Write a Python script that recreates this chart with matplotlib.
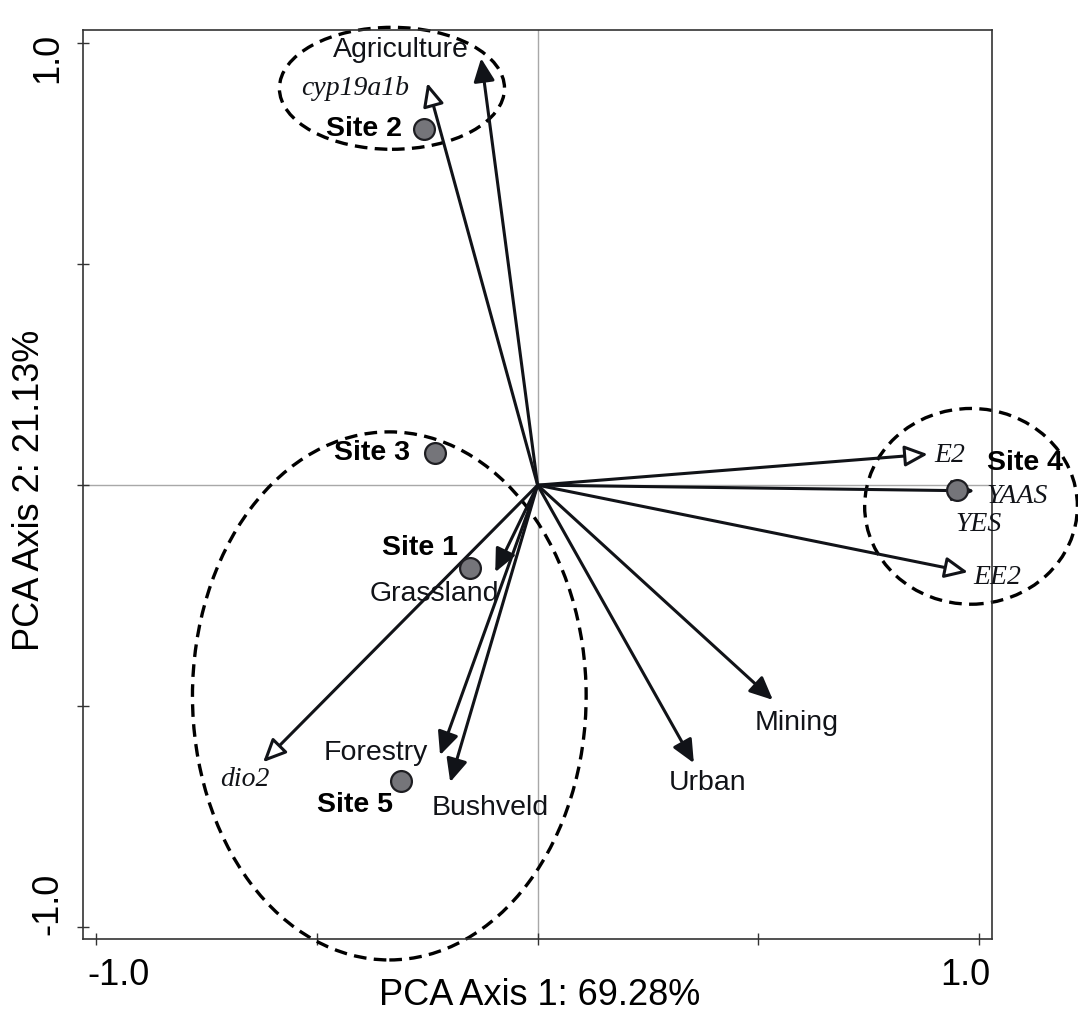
import matplotlib
matplotlib.use("Agg")
import matplotlib.pyplot as plt
from matplotlib.patches import Ellipse
from matplotlib.transforms import ScaledTranslation

# ---------------- data ----------------
env_names = ["Agriculture", "Grassland", "Forestry", "Bushveld", "Urban", "Mining"]
env_x = [-0.128, -0.096, -0.221, -0.198, 0.354, 0.533]
env_y = [0.966, -0.197, -0.611, -0.672, -0.629, -0.486]
env_lx = [-0.309, -0.234, -0.366, -0.108, 0.384, 0.588]
env_ly = [0.984, -0.247, -0.606, -0.731, -0.674, -0.538]

bio_names = ["cyp19a1b", "dio2", "E2", "YAAS", "EE2"]
bio_x = [-0.250, -0.622, 0.884, 0.990, 0.975]
bio_y = [0.910, -0.627, 0.070, -0.013, -0.197]
bio_lx = [-0.413, -0.663, 0.934, 1.086, 1.041]
bio_ly = [0.898, -0.667, 0.066, -0.025, -0.208]
extra_bio_label = "YES"
extra_bio_pos = [0.998, -0.088]

site_names = ["Site 1", "Site 2", "Site 3", "Site 4", "Site 5"]
site_x = [-0.153, -0.257, -0.232, 0.950, -0.309]
site_y = [-0.188, 0.805, 0.072, -0.012, -0.670]
site_lx = [-0.180, -0.307, -0.289, 1.104, -0.413]
site_ly = [-0.143, 0.805, 0.072, 0.050, -0.724]
site_ha = ["right", "right", "right", "center", "center"]

ell_cx = [-0.330, -0.336, 0.982]
ell_cy = [0.898, -0.477, -0.048]
ell_w = [0.510, 0.892, 0.482]
ell_h = [0.276, 1.195, 0.443]

xticks = [-1.0, -0.5, 0.0, 0.5, 1.0]
xticklabels = ["-1.0", "", "", "", "1.0"]
yticks = [-1.0, -0.5, 0.0, 0.5, 1.0]
yticklabels = ["-1.0", "", "", "", "1.0"]
xlabel = "PCA Axis 1: 69.28%"
ylabel = "PCA Axis 2: 21.13%"

# ---------------- plot ----------------
SANS = ["Liberation Sans", "DejaVu Sans"]
SERIF = ["Liberation Serif", "DejaVu Serif"]
plt.rcParams["font.family"] = SANS
ink = "#111318"

fig = plt.figure(figsize=(10.78, 10.14), dpi=100)
ax = fig.add_axes([0.077, 0.074, 0.843, 0.896])
ax.set_xlim(-1.03, 1.029)
ax.set_ylim(-1.027, 1.029)

ax.axhline(0, color="#a8a8a8", lw=1.0, zorder=1)
ax.axvline(0, color="#a8a8a8", lw=1.0, zorder=1)

for cx, cy, w, h in zip(ell_cx, ell_cy, ell_w, ell_h):
    e = Ellipse((cx, cy), w, h, fill=False, ec="black", lw=2.4,
                ls=(0, (3.8, 2.2)), clip_on=False, zorder=2)
    ax.add_patch(e)

arrow_style = "-|>,head_length=0.7,head_width=0.32"
for x, y in zip(env_x, env_y):
    ax.annotate("", xy=(x, y), xytext=(0, 0),
                arrowprops=dict(arrowstyle=arrow_style, color=ink, lw=2.2,
                                mutation_scale=20, shrinkA=0, shrinkB=0),
                zorder=3)
for x, y in zip(bio_x, bio_y):
    ax.annotate("", xy=(x, y), xytext=(0, 0),
                arrowprops=dict(arrowstyle=arrow_style, ec=ink, fc="white", lw=2.2,
                                mutation_scale=20, shrinkA=0, shrinkB=0),
                zorder=3)

ax.plot(site_x, site_y, "o", ms=15, mfc="#75757a", mec="#1e1e22", mew=1.6,
        ls="none", zorder=5, clip_on=False)

for n, x, y in zip(env_names, env_lx, env_ly):
    ax.text(x, y, n, fontsize=20.5, color=ink, ha="center", va="center", zorder=6)
for n, x, y in zip(bio_names, bio_lx, bio_ly):
    ax.text(x, y, n, fontsize=20, color=ink, ha="center", va="center",
            family=SERIF, style="italic", zorder=6)
ax.text(extra_bio_pos[0], extra_bio_pos[1], extra_bio_label, fontsize=20, color=ink,
        ha="center", va="center", family=SERIF, style="italic", zorder=6)
for n, x, y, ha in zip(site_names, site_lx, site_ly, site_ha):
    ax.text(x, y, n, fontsize=20.5, color="black", ha=ha, va="center",
            fontweight="bold", zorder=6)

for s in ax.spines.values():
    s.set_color("#333333")
    s.set_linewidth(1.2)

ax.set_xticks(xticks)
ax.set_xticklabels(xticklabels, fontsize=26)
ax.set_yticks(yticks)
ax.set_yticklabels(yticklabels, fontsize=26, rotation=90, va="center")
ax.tick_params(direction="inout", length=8, width=1.0, color="#333333")
ax.tick_params(axis="x", pad=10)
ax.tick_params(axis="y", pad=9)

# shift end labels inward like the reference
xl = ax.get_xticklabels()
xl[0].set_transform(xl[0].get_transform() + ScaledTranslation(22 / 100, 0, fig.dpi_scale_trans))
xl[-1].set_transform(xl[-1].get_transform() + ScaledTranslation(-14 / 100, 0, fig.dpi_scale_trans))
yl = ax.get_yticklabels()
yl[0].set_transform(yl[0].get_transform() + ScaledTranslation(0, 23 / 100, fig.dpi_scale_trans))
yl[-1].set_transform(yl[-1].get_transform() + ScaledTranslation(0, -15 / 100, fig.dpi_scale_trans))

ax.set_xlabel(xlabel, fontsize=26)
ax.set_ylabel(ylabel, fontsize=26)
ax.xaxis.set_label_coords(0.503, -0.043)
ax.yaxis.set_label_coords(-0.040, 0.494)

fig.savefig("out.png", dpi=100)
